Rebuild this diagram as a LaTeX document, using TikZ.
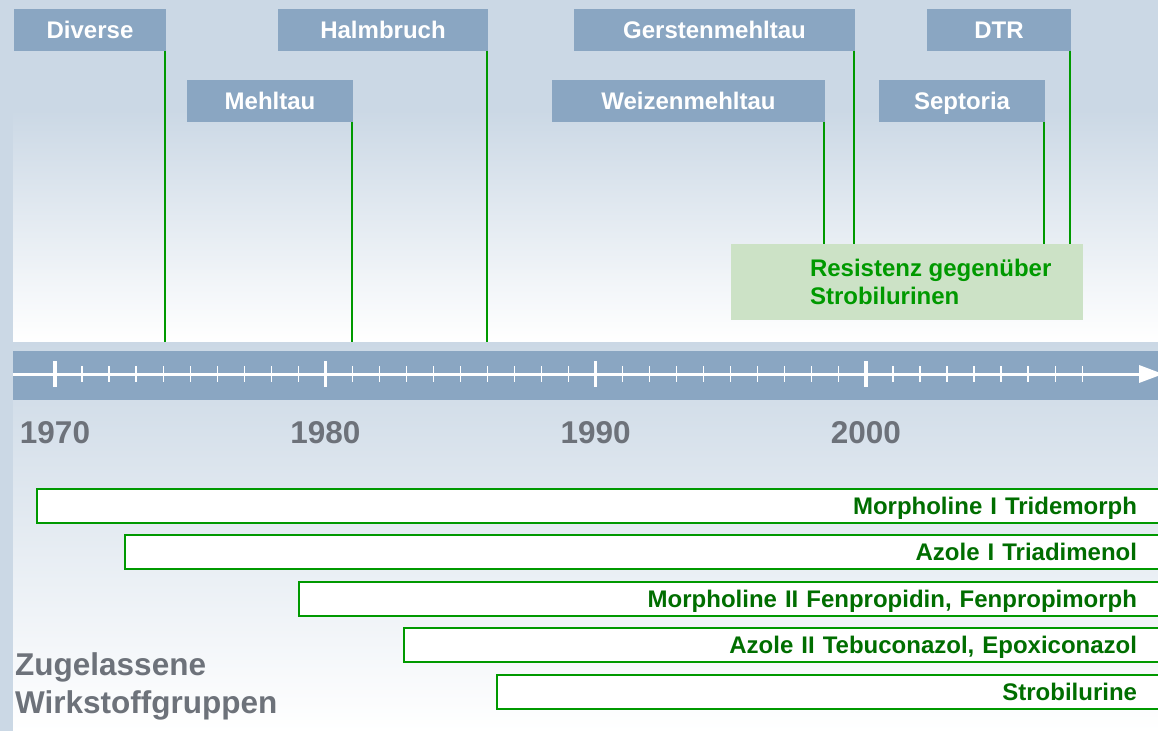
\documentclass[tikz,border=0pt]{standalone}
\usepackage{fontspec}
\setmainfont{Liberation Sans}
\usepackage{xcolor}
\usepackage{tikz}
\usetikzlibrary{arrows.meta,positioning}

\definecolor{bgblue}{HTML}{CBD8E5}
\definecolor{boxblue}{HTML}{8AA6C2}
\definecolor{markgreen}{HTML}{009900}
\definecolor{resfill}{HTML}{CCE2C6}
\definecolor{bargreen}{HTML}{006E00}
\definecolor{yeargray}{HTML}{6D727A}
\newcommand\lblfont{\fontsize{24}{28.5}\selectfont\bfseries}
\newcommand\bigfont{\fontsize{31.5}{38}\selectfont\bfseries}

\begin{document}
\begin{tikzpicture}[x=1pt, y=-1pt,
    disease/.style={fill=boxblue, text=white, font=\lblfont, minimum height=42pt,
                inner sep=0pt, text height=17pt, text depth=0pt},
    hitline/.style={draw=markgreen, line width=2pt},
    resbox/.style={fill=resfill, minimum width=352pt, minimum height=76pt, inner sep=0pt},
    restext/.style={text=markgreen, font=\lblfont, align=left, inner sep=0pt},
    approved/.style={draw=markgreen, line width=2pt, fill=white, text=bargreen, font=\lblfont,
                minimum height=34pt, inner ysep=0pt, inner xsep=33pt, text height=17pt,
                text depth=0pt, align=right},
    band/.style={fill=boxblue, minimum width=1145pt, minimum height=49pt, inner sep=0pt},
    axis/.style={draw=white, line width=3pt, -{Triangle[length=24pt, width=17pt]}},
    majortick/.style={draw=white, line width=3.5pt},
    minortick/.style={draw=white, line width=1.2pt},
    year/.style={text=yeargray, font=\bigfont, anchor=base, inner sep=0pt},
    grouplabel/.style={text=yeargray, font=\bigfont, align=left, inner sep=0pt, anchor=north west}
]
\useasboundingbox (0,0) rectangle (1158,731);
\clip (0,0) rectangle (1158,731);
\fill[bgblue] (0,0) rectangle (1158,731);
\shade[top color=bgblue, bottom color=white] (13,110) rectangle (1158,342);
\shade[top color=bgblue, bottom color=white] (13,342) rectangle (1158,731);
\coordinate (topedge) at (13,342);

\node[band] (band) at (585.5,375.5) {};
\draw[axis] ([yshift=1.5pt]band.west) -- ([xshift=5pt,yshift=1.5pt]band.east);
\foreach \yr in {1,...,38}
    \draw[minortick] ({55+27.03*\yr},366) -- ++(0,16);
\foreach \yr in {0,10,20,30}
    \draw[majortick] ({55+27.03*\yr},361) -- ++(0,26);
\foreach \yr/\yrname in {0/1970,10/1980,20/1990,30/2000}
    \node[year] (y\yrname) at ({55+27.03*\yr},443) {\yrname};

\node[disease, minimum width=152pt] (diverse) at (90,30) {Diverse};
\node[disease, minimum width=166pt] (mehltau) at (270,101) {Mehltau};
\node[disease, minimum width=210pt] (halmbruch) at (383,30) {Halmbruch};
\node[disease, minimum width=273pt] (weizen) at (688.5,101) {Weizenmehltau};
\node[disease, minimum width=281pt] (gerste) at (714.5,30) {Gerstenmehltau};
\node[disease, minimum width=166pt] (septoria) at (962,101) {Septoria};
\node[disease, minimum width=144pt] (dtr) at (999,30) {DTR};

\node[resbox] (resist) at (907,282) {};
\node[restext, right=79pt of resist.west] (restxt) {Resistenz gegenüber\\Strobilurinen};

\draw[hitline] ([xshift=-1.5pt]diverse.south east) -- ([xshift=-1.5pt]diverse.south east |- topedge);
\draw[hitline] ([xshift=-1.5pt]mehltau.south east) -- ([xshift=-1.5pt]mehltau.south east |- topedge);
\draw[hitline] ([xshift=-1.5pt]halmbruch.south east) -- ([xshift=-1.5pt]halmbruch.south east |- topedge);
\draw[hitline] ([xshift=-1.5pt]weizen.south east) -- ([xshift=-1.5pt]weizen.south east |- resist.north);
\draw[hitline] ([xshift=-1.5pt]gerste.south east) -- ([xshift=-1.5pt]gerste.south east |- resist.north);
\draw[hitline] ([xshift=-1.5pt]septoria.south east) -- ([xshift=-1.5pt]septoria.south east |- resist.north);
\draw[hitline] ([xshift=-1.5pt]dtr.south east) -- ([xshift=-1.5pt]dtr.south east |- resist.north);

\node[approved, text width=1067pt] (tridemorph) at (603.5,505.5) {Morpholine I Tridemorph};
\node[approved, text width=979pt] (triadimenol) at (647.5,552) {Azole I Triadimenol};
\node[approved, text width=805pt] (fenprop) at (734.5,599) {Morpholine II Fenpropidin, Fenpropimorph};
\node[approved, text width=700pt] (tebucon) at (787,645) {Azole II Tebuconazol, Epoxiconazol};
\node[approved, text width=607pt] (strobi) at (833.5,692) {Strobilurine};

\node[grouplabel] (groups) at (15,652) {Zugelassene\\Wirkstoffgruppen};
\end{tikzpicture}
\end{document}
